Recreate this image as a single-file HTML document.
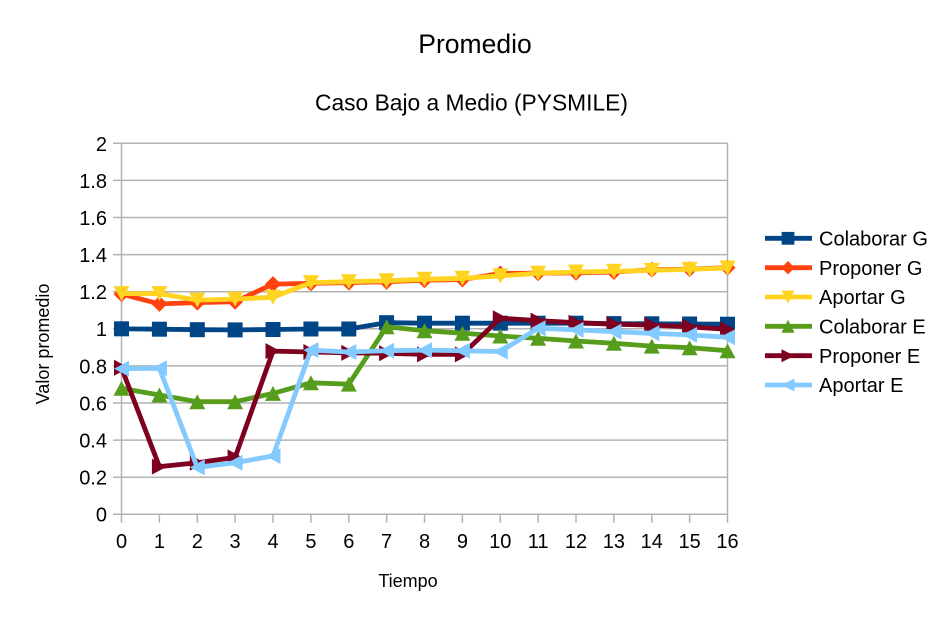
<!DOCTYPE html>
<html><head><meta charset="utf-8"><style>
html,body{margin:0;padding:0;background:#fff;}
svg{display:block;font-family:"Liberation Sans",Arial,sans-serif;}
</style></head><body>
<svg width="945" height="623" viewBox="0 0 945 623" xmlns="http://www.w3.org/2000/svg">
<defs>
<marker id="mSq" markerUnits="userSpaceOnUse" viewBox="-8 -8 16 16" markerWidth="16" markerHeight="16" refX="0" refY="0" orient="0" overflow="visible"><rect x="-7.5" y="-7.5" width="15" height="15" fill="#004586"/></marker>
<marker id="mDi" markerUnits="userSpaceOnUse" viewBox="-8 -8 16 16" markerWidth="16" markerHeight="16" refX="0" refY="0" orient="0" overflow="visible"><polygon points="0,-8 8,0 0,8 -8,0" fill="#ff420e"/></marker>
<marker id="mDn" markerUnits="userSpaceOnUse" viewBox="-8 -8 16 16" markerWidth="16" markerHeight="16" refX="0" refY="0" orient="0" overflow="visible"><polygon points="-8,-7.5 8,-7.5 0,7.5" fill="#ffd320"/></marker>
<marker id="mUp" markerUnits="userSpaceOnUse" viewBox="-8 -8 16 16" markerWidth="16" markerHeight="16" refX="0" refY="0" orient="0" overflow="visible"><polygon points="-8,7.5 8,7.5 0,-7.5" fill="#579d1c"/></marker>
<marker id="mRt" markerUnits="userSpaceOnUse" viewBox="-8 -8 16 16" markerWidth="16" markerHeight="16" refX="0" refY="0" orient="0" overflow="visible"><polygon points="-7.5,-8 7.5,0 -7.5,8" fill="#7e0021"/></marker>
<marker id="mLt" markerUnits="userSpaceOnUse" viewBox="-8 -8 16 16" markerWidth="16" markerHeight="16" refX="0" refY="0" orient="0" overflow="visible"><polygon points="7.5,-8 -7.5,0 7.5,8" fill="#83caff"/></marker>
</defs>

<!-- titles -->
<text x="475" y="53" font-size="26.5" text-anchor="middle" fill="#000">Promedio</text>
<text x="471.5" y="110.5" font-size="22.8" text-anchor="middle" fill="#000">Caso Bajo a Medio (PYSMILE)</text>

<!-- grid -->
<g stroke="#b3b3b3" stroke-width="1.5" fill="none">
<line x1="113" y1="143.3" x2="727.5" y2="143.3"/>
<line x1="113" y1="180.4" x2="727.5" y2="180.4"/>
<line x1="113" y1="217.5" x2="727.5" y2="217.5"/>
<line x1="113" y1="254.6" x2="727.5" y2="254.6"/>
<line x1="113" y1="291.7" x2="727.5" y2="291.7"/>
<line x1="113" y1="328.8" x2="727.5" y2="328.8"/>
<line x1="113" y1="365.9" x2="727.5" y2="365.9"/>
<line x1="113" y1="403.0" x2="727.5" y2="403.0"/>
<line x1="113" y1="440.1" x2="727.5" y2="440.1"/>
<line x1="113" y1="477.2" x2="727.5" y2="477.2"/>
<line x1="113" y1="514.3" x2="727.5" y2="514.3"/>
<line x1="121.5" y1="143.3" x2="121.5" y2="522.7"/>
<line x1="727.5" y1="143.3" x2="727.5" y2="522.7"/>
<line x1="159.4" y1="514.3" x2="159.4" y2="522.7"/>
<line x1="197.3" y1="514.3" x2="197.3" y2="522.7"/>
<line x1="235.1" y1="514.3" x2="235.1" y2="522.7"/>
<line x1="273.0" y1="514.3" x2="273.0" y2="522.7"/>
<line x1="310.9" y1="514.3" x2="310.9" y2="522.7"/>
<line x1="348.8" y1="514.3" x2="348.8" y2="522.7"/>
<line x1="386.6" y1="514.3" x2="386.6" y2="522.7"/>
<line x1="424.5" y1="514.3" x2="424.5" y2="522.7"/>
<line x1="462.4" y1="514.3" x2="462.4" y2="522.7"/>
<line x1="500.3" y1="514.3" x2="500.3" y2="522.7"/>
<line x1="538.1" y1="514.3" x2="538.1" y2="522.7"/>
<line x1="576.0" y1="514.3" x2="576.0" y2="522.7"/>
<line x1="613.9" y1="514.3" x2="613.9" y2="522.7"/>
<line x1="651.8" y1="514.3" x2="651.8" y2="522.7"/>
<line x1="689.6" y1="514.3" x2="689.6" y2="522.7"/>
</g>

<!-- y tick labels -->
<g font-size="20" text-anchor="end" fill="#000">
<text x="107" y="151">2</text>
<text x="107" y="188">1.8</text>
<text x="107" y="225">1.6</text>
<text x="107" y="262">1.4</text>
<text x="107" y="299">1.2</text>
<text x="107" y="336">1</text>
<text x="107" y="373.5">0.8</text>
<text x="107" y="410.5">0.6</text>
<text x="107" y="447.5">0.4</text>
<text x="107" y="484.5">0.2</text>
<text x="107" y="521.5">0</text>
</g>

<!-- x tick labels -->
<g font-size="20" text-anchor="middle" fill="#000">
<text x="121.5" y="548">0</text>
<text x="159.4" y="548">1</text>
<text x="197.3" y="548">2</text>
<text x="235.1" y="548">3</text>
<text x="273.0" y="548">4</text>
<text x="310.9" y="548">5</text>
<text x="348.8" y="548">6</text>
<text x="386.6" y="548">7</text>
<text x="424.5" y="548">8</text>
<text x="462.4" y="548">9</text>
<text x="500.3" y="548">10</text>
<text x="538.1" y="548">11</text>
<text x="576.0" y="548">12</text>
<text x="613.9" y="548">13</text>
<text x="651.8" y="548">14</text>
<text x="689.6" y="548">15</text>
<text x="727.5" y="548">16</text>
</g>

<!-- axis titles -->
<text x="408" y="587" font-size="18" text-anchor="middle" fill="#000">Tiempo</text>
<text x="49" y="344" font-size="18" text-anchor="middle" fill="#000" transform="rotate(-90 49 344)">Valor promedio</text>

<!-- series -->
<g fill="none" stroke-width="4.8" stroke-linejoin="round">
<polyline stroke="#004586" marker-start="url(#mSq)" marker-mid="url(#mSq)" marker-end="url(#mSq)"
 points="121.5,328.8 159.4,329.2 197.3,329.7 235.1,329.9 273.0,329.5 310.9,329.0 348.8,329.0 386.6,322.7 424.5,323.2 462.4,323.2 500.3,323.2 538.1,323.2 576.0,323.2 613.9,323.6 651.8,323.8 689.6,324.0 727.5,324.2"/>
<polyline stroke="#ff420e" marker-start="url(#mDi)" marker-mid="url(#mDi)" marker-end="url(#mDi)"
 points="121.5,294.1 159.4,303.9 197.3,302.6 235.1,301.7 273.0,284.1 310.9,283.4 348.8,282.6 386.6,281.7 424.5,280.2 462.4,279.5 500.3,273.5 538.1,273.2 576.0,272.8 613.9,272.0 651.8,269.8 689.6,269.1 727.5,267.6"/>
<polyline stroke="#ffd320" marker-start="url(#mDn)" marker-mid="url(#mDn)" marker-end="url(#mDn)"
 points="121.5,293.6 159.4,293.6 197.3,300.1 235.1,299.1 273.0,297.3 310.9,282.6 348.8,281.7 386.6,280.8 424.5,279.3 462.4,278.3 500.3,275.9 538.1,273.2 576.0,272.0 613.9,271.3 651.8,270.4 689.6,269.4 727.5,268.0"/>
<polyline stroke="#579d1c" marker-start="url(#mUp)" marker-mid="url(#mUp)" marker-end="url(#mUp)"
 points="121.5,388.3 159.4,395.0 197.3,401.7 235.1,401.7 273.0,393.4 310.9,382.8 348.8,384.1 386.6,326.8 424.5,330.7 462.4,333.2 500.3,336.0 538.1,338.3 576.0,341.0 613.9,343.3 651.8,346.1 689.6,347.7 727.5,350.7"/>
<polyline stroke="#7e0021" marker-start="url(#mRt)" marker-mid="url(#mRt)" marker-end="url(#mRt)"
 points="121.5,367.8 159.4,466.6 197.3,462.7 235.1,457.4 273.0,351.1 310.9,352.0 348.8,352.9 386.6,353.3 424.5,354.4 462.4,354.4 500.3,318.2 538.1,320.6 576.0,322.7 613.9,324.2 651.8,325.1 689.6,326.8 727.5,329.4"/>
<polyline stroke="#83caff" marker-start="url(#mLt)" marker-mid="url(#mLt)" marker-end="url(#mLt)"
 points="121.5,368.7 159.4,368.3 197.3,467.4 235.1,462.7 273.0,456.0 310.9,350.1 348.8,352.0 386.6,350.7 424.5,350.1 462.4,350.7 500.3,351.6 538.1,328.2 576.0,329.9 613.9,331.6 651.8,333.3 689.6,334.9 727.5,337.3"/>
</g>

<!-- legend -->
<g stroke-width="4.8">
<line x1="765" y1="238.3" x2="812" y2="238.3" stroke="#004586"/>
<line x1="765" y1="267.7" x2="812" y2="267.7" stroke="#ff420e"/>
<line x1="765" y1="297" x2="812" y2="297" stroke="#ffd320"/>
<line x1="765" y1="326.3" x2="812" y2="326.3" stroke="#579d1c"/>
<line x1="765" y1="355.7" x2="812" y2="355.7" stroke="#7e0021"/>
<line x1="765" y1="385" x2="812" y2="385" stroke="#83caff"/>
</g>
<rect x="781.6" y="231.9" width="12.8" height="12.8" fill="#004586"/>
<polygon points="788,261 794.7,267.7 788,274.4 781.3,267.7" fill="#ff420e"/>
<polygon points="781.5,290.5 794.5,290.5 788,303.5" fill="#ffd320"/>
<polygon points="781.5,332.8 794.5,332.8 788,319.8" fill="#579d1c"/>
<polygon points="781.5,349.2 794.5,355.7 781.5,362.2" fill="#7e0021"/>
<polygon points="794.5,378.5 781.5,385 794.5,391.5" fill="#83caff"/>
<g font-size="20" fill="#000">
<text x="819" y="245.5">Colaborar G</text>
<text x="819" y="274.9">Proponer G</text>
<text x="819" y="304.2">Aportar G</text>
<text x="819" y="333.5">Colaborar E</text>
<text x="819" y="362.9">Proponer E</text>
<text x="819" y="392.2">Aportar E</text>
</g>
</svg>
</body></html>
